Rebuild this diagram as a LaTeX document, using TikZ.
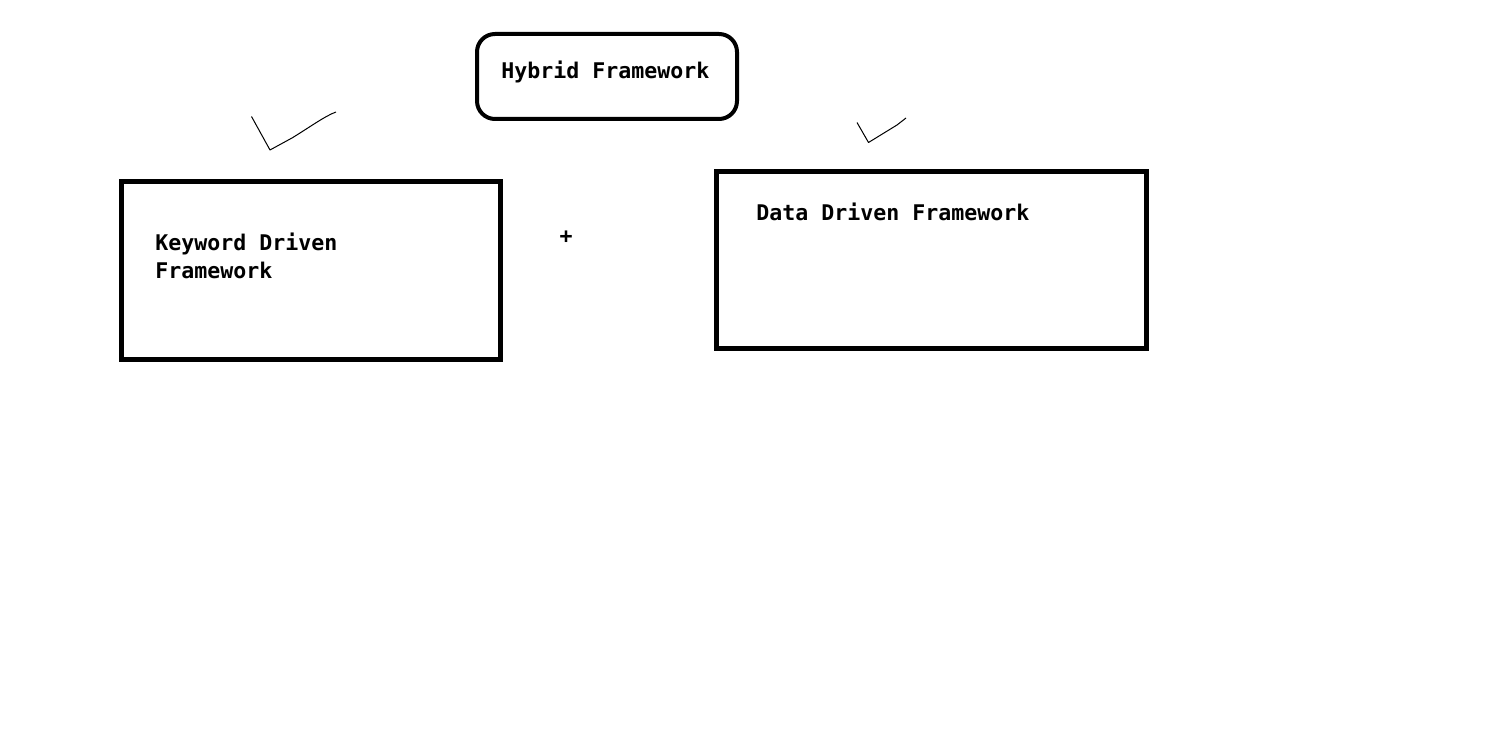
\documentclass[tikz,border=0pt]{standalone}
\usepackage{fontspec}
\setmonofont{DejaVu Sans Mono}
\begin{document}
\begin{tikzpicture}[x=0.5pt,y=-0.5pt,
  lbl/.style={font=\ttfamily\bfseries\fontsize{10.8pt}{14pt}\selectfont, inner sep=0pt, anchor=base west, text=black},
  bigbox/.style={draw=black, line width=2.5pt, inner sep=0pt, rectangle},
  roundbox/.style={draw=black, line width=2pt, inner sep=0pt, rectangle, rounded corners=9pt},
  tick/.style={draw=black, line width=0.5pt, line join=round}]
\useasboundingbox[fill=white] (0,0) rectangle (1508,742);
% Hybrid box
\node[roundbox, minimum width=130pt, minimum height=42.5pt] (hyb) at (607,76.5) {};
\node[lbl] (hybt) at (501,79) {Hybrid Framework};
% Keyword box
\node[bigbox, minimum width=189.5pt, minimum height=89pt] (kw) at (311,270.5) {};
\node[lbl] (kwt1) at (155,251) {Keyword Driven};
\node[lbl] (kwt2) at (155,279) {Framework};
% plus
\node[lbl, anchor=center] (plus) at (566,237) {+};
% Data box
\node[bigbox, minimum width=215pt, minimum height=88.5pt] (dd) at (931.5,260) {};
\node[lbl] (ddt) at (756,221) {Data Driven Framework};
% check marks
\coordinate (c1a) at (251.5,116.5);
\coordinate (c1b) at (270,150);
\coordinate (c1c) at (292,138);
\coordinate (c1d) at (336,112);
\draw[tick] (c1a) -- (c1b) -- (c1c) .. controls (310,127) and (325,116) .. (c1d);
\coordinate (c2a) at (857,122.5);
\coordinate (c2b) at (868.5,142.5);
\coordinate (c2c) at (897,125);
\coordinate (c2d) at (906,118);
\draw[tick] (c2a) -- (c2b) -- (c2c) -- (c2d);
\end{tikzpicture}
\end{document}
